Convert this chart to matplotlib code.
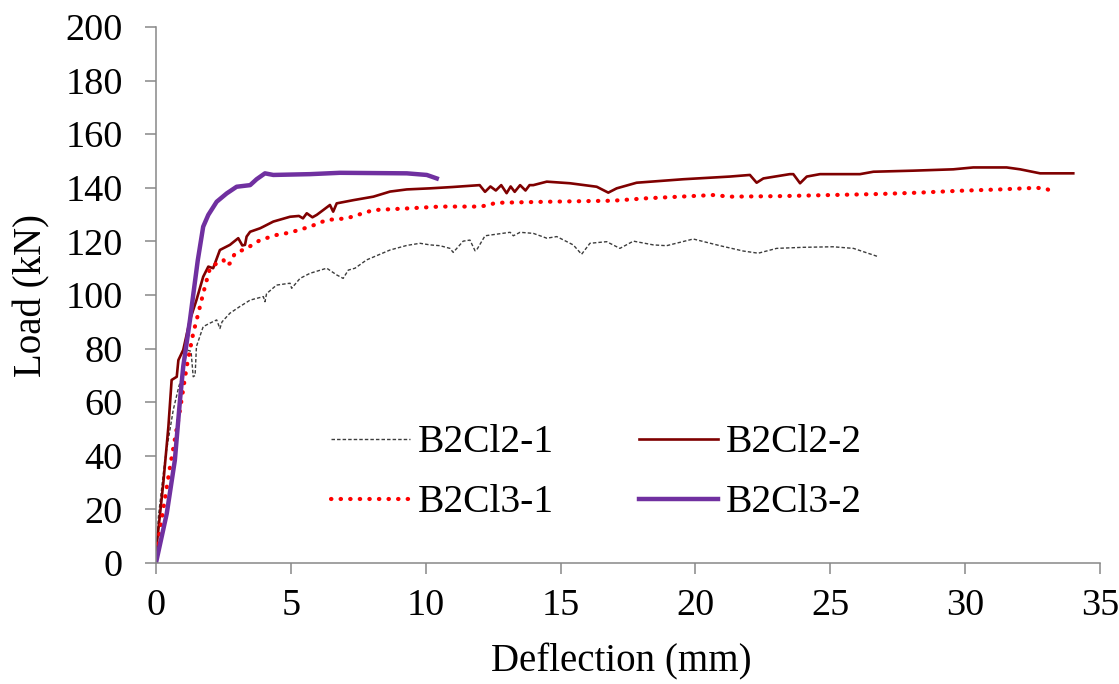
import matplotlib
matplotlib.use("Agg")
import matplotlib.pyplot as plt

plt.rcParams.update({
    "font.family": "Liberation Serif",
    "font.size": 27.5,
})

# ── Load–deflection curves (deflection in mm, load in kN) ─────────────────────
b2cl2_1_x = [0, 0.09, 0.33, 0.64, 0.85, 1.01, 1.14, 1.3, 1.38, 1.45, 1.5, 1.75, 2.0, 2.25,
             2.37, 2.45, 2.74, 3.11, 3.49, 3.98, 4.04, 4.1, 4.47, 4.97, 5.03, 5.34, 5.71,
             6.33, 6.7, 6.94, 7.13, 7.38, 7.81, 8.68, 9.3, 9.79, 10.16, 10.53, 10.9, 11.02,
             11.39, 11.64, 11.83, 11.9, 12.2, 13.13, 13.25, 13.5, 13.99, 14.49, 14.86,
             15.47, 15.78, 16.09, 16.71, 17.2, 17.7, 18.44, 18.93, 19.92, 20.91, 21.78,
             22.33, 23.01, 24.0, 25.1, 25.86, 26.78]
b2cl2_1_y = [0, 17.3, 38.4, 57.1, 66.0, 70.8, 79.5, 79.0, 69.5, 70.0, 80.8, 88.2, 89.5, 90.7,
             87.5, 90.0, 93.2, 95.7, 98.1, 99.4, 97.5, 100.5, 103.7, 104.4, 102.5, 106.2, 108.1,
             110.0, 107.5, 106.2, 109.3, 110.0, 113.1, 116.8, 118.5, 119.3, 118.7, 118.4, 117.4, 115.9,
             120.1, 120.5, 116.5, 117.0, 122.1, 123.4, 122.1, 123.4, 123.0, 121.2, 121.8,
             118.7, 115.2, 119.3, 119.9, 117.4, 120.1, 118.7, 118.4, 120.9, 118.4, 116.4,
             115.6, 117.4, 117.8, 118.0, 117.4, 114.3]

b2cl2_2_x = [0, 0.02, 0.27, 0.46, 0.58, 0.77, 0.83, 1.01, 1.26, 1.5, 1.75, 1.94, 2.12, 2.37,
             2.74, 3.05, 3.2, 3.3, 3.36, 3.49, 3.86, 3.98, 4.35, 4.97, 5.3, 5.45, 5.59, 5.8,
             5.96, 6.2, 6.45, 6.57, 6.7, 7.32, 8.06, 8.68, 9.3, 10.16, 11.0, 12.0, 12.2, 12.4,
             12.6, 12.8, 13.0, 13.15, 13.3, 13.5, 13.7, 13.85, 13.99, 14.49, 15.35, 16.34,
             16.77, 17.08, 17.82, 19.55, 21.28, 22.02, 22.27, 22.52, 23.5, 23.63, 23.88,
             24.13, 24.62, 26.1, 26.6, 28.08, 29.56, 30.3, 31.54, 32.04, 32.78, 34.01]
b2cl2_2_y = [0, 6.0, 29.7, 50.9, 68.3, 69.5, 75.7, 79.5, 90.7, 98.1, 106.8, 110.6, 110.0, 116.8,
             118.7, 121.2, 118.5, 118.7, 121.8, 123.6, 124.9, 125.5, 127.4, 129.2, 129.5, 128.6, 130.5, 129.0,
             129.9, 131.7, 133.6, 131.1, 134.2, 135.4, 136.7, 138.6, 139.4, 139.8, 140.3, 141.0, 138.5, 140.5,
             139.0, 141.0, 138.0, 140.5, 138.5, 141.0, 139.0, 141.0, 141.0, 142.3, 141.7, 140.4,
             138.2, 139.8, 141.9, 143.2, 144.2, 144.8, 141.9, 143.5, 145.1, 145.1, 141.7,
             144.2, 145.1, 145.1, 146.0, 146.4, 146.9, 147.6, 147.6, 146.9, 145.4, 145.4]

b2cl3_1_x = [0, 0.09, 0.52, 0.89, 1.14, 1.38, 1.57, 1.75, 2.0, 2.25, 2.5, 2.6, 2.74, 2.93,
             3.36, 3.86, 4.47, 4.97, 5.71, 6.33, 7.07, 8.06, 9.3, 10.53, 12.0, 12.38, 12.57,
             14.49, 16.96, 18.2, 20.66, 21.28, 23.14, 26.85, 28.3, 29.8, 31.3, 32.65, 33.0, 33.3]
b2cl3_1_y = [0, 8.6, 35.9, 57.1, 73.3, 85.7, 93.2, 100.6, 110.0, 111.8, 113.1, 111.0, 111.8, 115.6,
             117.4, 120.5, 122.4, 123.3, 125.5, 128.0, 128.6, 131.7, 132.3, 133.0, 133.0, 133.6, 134.4,
             134.8, 135.2, 136.1, 137.3, 136.7, 136.9, 137.7, 138.2, 138.9, 139.4, 140.0, 139.7, 138.2]

b2cl3_2_x = [0, 0.02, 0.4, 0.7, 0.89, 1.01, 1.26, 1.38, 1.55, 1.75, 1.94, 2.25, 2.62, 2.99,
             3.49, 3.6, 3.73, 4.04, 4.35, 5.71, 6.82, 9.3, 10.04, 10.41]
b2cl3_2_y = [0, 1.0, 18.5, 38.4, 60.8, 73.3, 90.7, 100.0, 113.0, 125.5, 129.9, 134.8, 137.9, 140.4,
             141.0, 142.0, 143.2, 145.4, 144.8, 145.1, 145.6, 145.4, 144.8, 143.5]

labels = ["B2Cl2-1", "B2Cl2-2", "B2Cl3-1", "B2Cl3-2"]
x_ticks = [0, 5, 10, 15, 20, 25, 30, 35]
y_ticks = [0, 20, 40, 60, 80, 100, 120, 140, 160, 180, 200]

fig = plt.figure(figsize=(11.19, 6.84), dpi=100)
ax = fig.add_axes([0.1394, 0.1769, 0.8436, 0.7836])

l1, = ax.plot(b2cl2_1_x, b2cl2_1_y, color="#3c3c3c", lw=1.0,
              linestyle=(0, (2.5, 1.5)), label=labels[0])
l2, = ax.plot(b2cl2_2_x, b2cl2_2_y, color="#7f0000", lw=1.9, label=labels[1])
l3, = ax.plot(b2cl3_1_x, b2cl3_1_y, color="#ff0000", lw=3.0,
              linestyle=(0, (0.1, 2.2)), dash_capstyle="round", label=labels[2])
l4, = ax.plot(b2cl3_2_x, b2cl3_2_y, color="#7030a0", lw=3.2, label=labels[3])

ax.set_xlim(0, 35)
ax.set_ylim(0, 200)
ax.set_xticks(x_ticks)
ax.set_yticks(y_ticks)

for side in ["top", "right"]:
    ax.spines[side].set_visible(False)
for side in ["left", "bottom"]:
    ax.spines[side].set_color("#888888")
    ax.spines[side].set_linewidth(1.1)
ax.tick_params(axis="both", direction="out", length=8, width=1.1, color="#888888")
ax.tick_params(axis="x", pad=10)
ax.tick_params(axis="y", pad=16)

ax.set_xlabel("Deflection (mm)", fontsize=28)
ax.set_ylabel("Load (kN)", fontsize=28)
ax.xaxis.set_label_coords(0.493, -0.15)
ax.yaxis.set_label_coords(-0.112, 0.5)

# column-wise legend: dashed/dotted in the first column, solid in the second
ax.legend([l1, l3, l2, l4], [labels[0], labels[2], labels[1], labels[3]],
          ncol=2, frameon=False, loc="center left", bbox_to_anchor=(0.164, 0.168),
          borderpad=0, handlelength=2.0, handletextpad=0.2, columnspacing=2.15,
          labelspacing=0.58, fontsize=28.5)

fig.savefig("out.png", dpi=100)
